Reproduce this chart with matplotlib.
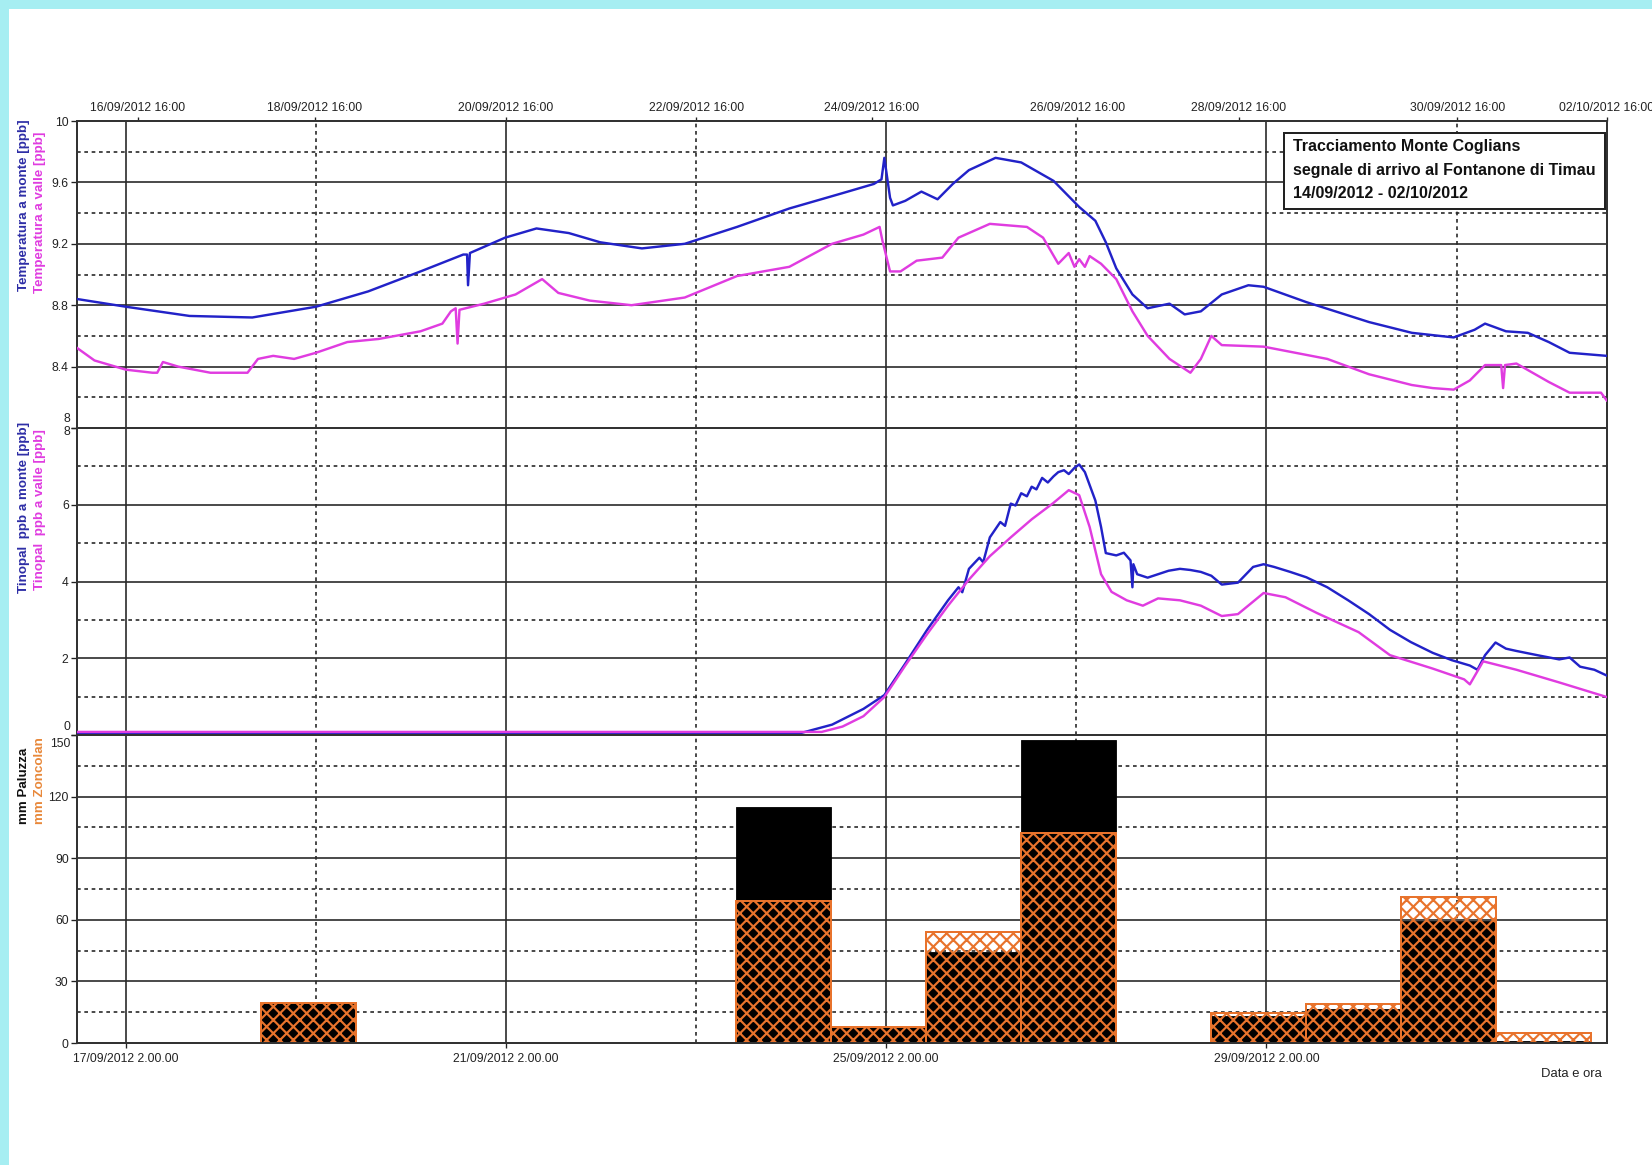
import numpy as np
import pandas as pd
import matplotlib
matplotlib.use("Agg")
import matplotlib.pyplot as plt
import matplotlib.dates as mdates
from matplotlib.patches import Rectangle
import matplotlib.transforms as mtransforms

# ---------------- data (time in days since 17/09/2012 02:00) ----------------
temp_monte_days = [-0.51, 0.0, 0.67, 1.33, 2.0, 2.55, 3.10, 3.55, 3.59, 3.60, 3.62, 3.99, 4.32, 4.66,
                   4.99, 5.43, 5.88, 6.43, 6.98, 7.54, 7.87, 7.95, 7.98, 8.04, 8.07, 8.20, 8.37, 8.54,
                   8.70, 8.87, 9.15, 9.42, 9.76, 10.03, 10.20, 10.31, 10.42, 10.59, 10.75, 10.98,
                   11.14, 11.31, 11.53, 11.81, 11.97, 12.42, 13.08, 13.53, 13.97, 14.19, 14.30,
                   14.52, 14.75, 14.97, 15.19, 15.58]
temp_monte_vals = [8.84, 8.79, 8.73, 8.72, 8.79, 8.89, 9.02, 9.13, 9.13, 8.93, 9.14, 9.24, 9.30, 9.27,
                   9.21, 9.17, 9.20, 9.31, 9.43, 9.53, 9.59, 9.62, 9.76, 9.50, 9.45, 9.48, 9.54, 9.49,
                   9.59, 9.68, 9.76, 9.73, 9.61, 9.44, 9.35, 9.21, 9.04, 8.87, 8.78, 8.81,
                   8.74, 8.76, 8.87, 8.93, 8.92, 8.82, 8.69, 8.62, 8.59, 8.64, 8.68,
                   8.63, 8.62, 8.56, 8.49, 8.47]

temp_valle_days = [-0.51, -0.33, 0.0, 0.28, 0.33, 0.39, 0.55, 0.89, 1.28, 1.39, 1.55, 1.77, 2.0, 2.33,
                   2.66, 3.10, 3.33, 3.42, 3.47, 3.49, 3.51, 3.77, 4.10, 4.38, 4.55, 4.88, 5.32, 5.88,
                   6.43, 6.98, 7.43, 7.76, 7.93, 7.96, 8.04, 8.15, 8.32, 8.59, 8.76, 9.09, 9.48, 9.65,
                   9.81, 9.92, 9.98, 10.03, 10.09, 10.14, 10.26, 10.42, 10.59, 10.75, 10.98, 11.20,
                   11.31, 11.42, 11.53, 11.97, 12.64, 13.08, 13.53, 13.75, 13.97, 14.14, 14.30, 14.47,
                   14.49, 14.51, 14.63, 14.97, 15.19, 15.52, 15.58]
temp_valle_vals = [8.52, 8.44, 8.38, 8.36, 8.36, 8.43, 8.40, 8.36, 8.36, 8.45, 8.47, 8.45, 8.49, 8.56,
                   8.58, 8.63, 8.68, 8.76, 8.78, 8.55, 8.77, 8.81, 8.87, 8.97, 8.88, 8.83, 8.80, 8.85,
                   8.99, 9.05, 9.20, 9.26, 9.31, 9.22, 9.02, 9.02, 9.09, 9.11, 9.24, 9.33, 9.31, 9.24,
                   9.07, 9.14, 9.05, 9.10, 9.05, 9.12, 9.07, 8.97, 8.76, 8.60, 8.45, 8.36,
                   8.45, 8.60, 8.54, 8.53, 8.45, 8.35, 8.28, 8.26, 8.25, 8.31, 8.41, 8.41,
                   8.26, 8.41, 8.42, 8.30, 8.23, 8.23, 8.18]

tin_monte_days = [-0.51, 7.10, 7.43, 7.76, 7.98, 8.20, 8.43, 8.65, 8.76, 8.80, 8.87, 8.98, 9.02,
                  9.09, 9.20, 9.25, 9.31, 9.36, 9.42, 9.48, 9.53, 9.58, 9.64, 9.70, 9.76, 9.81,
                  9.87, 9.92, 9.98, 10.03, 10.09, 10.20, 10.26, 10.31, 10.42, 10.50, 10.57, 10.59,
                  10.60, 10.64, 10.75, 10.86, 10.97, 11.09, 11.20, 11.31, 11.42, 11.53, 11.70,
                  11.86, 11.97, 12.08, 12.25, 12.42, 12.64, 12.86, 13.08, 13.30, 13.52, 13.75,
                  13.95, 14.14, 14.22, 14.30, 14.41, 14.52, 14.63, 14.85, 15.08, 15.19, 15.30,
                  15.45, 15.58]
tin_monte_vals = [0.05, 0.05, 0.27, 0.68, 1.04, 1.86, 2.74, 3.51, 3.85, 3.72, 4.33, 4.62, 4.50,
                  5.15, 5.55, 5.45, 6.03, 5.98, 6.30, 6.22, 6.47, 6.40, 6.70, 6.58, 6.74, 6.85,
                  6.90, 6.80, 6.96, 7.05, 6.85, 6.11, 5.42, 4.74, 4.68, 4.75, 4.55, 3.85,
                  4.45, 4.19, 4.10, 4.19, 4.28, 4.33, 4.30, 4.25, 4.15, 3.92, 3.97,
                  4.38, 4.45, 4.38, 4.25, 4.11, 3.85, 3.51, 3.15, 2.74, 2.42, 2.14,
                  1.95, 1.81, 1.70, 2.08, 2.41, 2.25, 2.19, 2.08, 1.97, 2.02, 1.78,
                  1.70, 1.55]

tin_valle_days = [-0.51, 7.32, 7.54, 7.76, 7.98, 8.20, 8.43, 8.65, 8.87, 9.09, 9.31, 9.53, 9.76, 9.92,
                  10.03, 10.14, 10.26, 10.37, 10.53, 10.70, 10.86, 11.09, 11.31, 11.53, 11.70, 11.97,
                  12.20, 12.53, 12.97, 13.30, 13.75, 14.08, 14.14, 14.28, 14.63, 15.08, 15.58]
tin_valle_vals = [0.08, 0.08, 0.22, 0.49, 0.99, 1.81, 2.63, 3.37, 4.05, 4.66, 5.15, 5.62, 6.05, 6.38,
                  6.25, 5.42, 4.19, 3.73, 3.51, 3.37, 3.56, 3.51, 3.37, 3.10, 3.15, 3.70,
                  3.59, 3.18, 2.68, 2.08, 1.73, 1.45, 1.32, 1.92, 1.70, 1.37, 0.99]

rain_start_days = [1.417, 6.417, 7.417, 8.417, 9.417, 11.417, 12.417, 13.417, 14.417]
rain_paluzza = [19.5, 115, 8, 44.5, 147.5, 13, 16.5, 59.5, 1]
rain_zoncolan = [19.5, 69, 8, 54, 102.5, 14.5, 19, 71, 5]

top_tick_days = [0.126, 1.989, 4.0, 6.0, 7.85, 10.01, 11.71, 14.01, 15.583]
top_tick_labels = ["16/09/2012 16:00", "18/09/2012 16:00", "20/09/2012 16:00", "22/09/2012 16:00",
                   "24/09/2012 16:00", "26/09/2012 16:00", "28/09/2012 16:00", "30/09/2012 16:00",
                   "02/10/2012 16:00"]
bottom_tick_days = [0, 4, 8, 12]
minor_grid_days = [2, 6, 10, 14]
x_range_days = [-0.514, 15.583]

T0 = pd.Timestamp("2012-09-17 02:00")


def xnum(days):
    d = T0 + pd.to_timedelta(np.asarray(days, dtype=float), unit="D")
    return mdates.date2num(pd.DatetimeIndex(d).to_pydatetime())


# ---------------- style ----------------
W, H, DPI = 1652, 1165, 120
BLUE = "#2222c8"
PINK = "#e03ce0"
ORANGE = "#e8732c"
GRID = "#2a2a2a"
FONT = ["Liberation Sans", "DejaVu Sans"]
plt.rcParams["font.family"] = FONT
plt.rcParams["hatch.linewidth"] = 1.3

fig = plt.figure(figsize=(W / DPI, H / DPI), dpi=DPI)
fig.patch.set_facecolor("#a6eef2")
fig.add_artist(Rectangle((9 / W, 0), 1, 1 - 9 / H, transform=fig.transFigure,
                         facecolor="white", edgecolor="none", zorder=-10))

left = 77 / W
width = (1607 - 77) / W


def rect(top_px, bot_px):
    return [left, 1 - bot_px / H, width, (bot_px - top_px) / H]


ax_t = fig.add_axes(rect(121, 428))
ax_m = fig.add_axes(rect(428, 735))
ax_b = fig.add_axes(rect(735, 1043))

xlim = xnum(x_range_days)
TICK_FS = 7.3
LW = 1.45

for ax in (ax_t, ax_m, ax_b):
    ax.set_facecolor("none")
    ax.set_xlim(xlim)
    for s in ax.spines.values():
        s.set_color("#333333")
        s.set_linewidth(1.2)
    for d in bottom_tick_days:
        ax.axvline(xnum([d])[0], color=GRID, lw=1.0, zorder=0.5)
    for d in minor_grid_days:
        ax.axvline(xnum([d])[0], color=GRID, lw=1.0, ls=(0, (2.2, 2.2)), zorder=0.5)
    ax.tick_params(axis="y", direction="out", length=3.5, width=0.8, labelsize=TICK_FS,
                   pad=1.5, colors="#222222")

# ---------- top: temperature ----------
ax_t.set_ylim(8, 10)
t_major = [8, 8.4, 8.8, 9.2, 9.6, 10]
t_minor = [8.2, 8.6, 9.0, 9.4, 9.8]
for v in t_major[1:-1]:
    ax_t.axhline(v, color=GRID, lw=1.0, zorder=0.5)
for v in t_minor:
    ax_t.axhline(v, color=GRID, lw=1.0, ls=(0, (2.2, 2.2)), zorder=0.5)
ax_t.set_yticks(t_major, ["", "8.4", "8.8", "9.2", "9.6", "10"])
ax_t.plot(xnum(temp_monte_days), temp_monte_vals, color=BLUE, lw=LW, zorder=3)
ax_t.plot(xnum(temp_valle_days), temp_valle_vals, color=PINK, lw=LW, zorder=3)
ax_t.set_xticks(xnum(top_tick_days), top_tick_labels)
ax_t.tick_params(axis="x", top=True, bottom=False, labeltop=True, labelbottom=False,
                 direction="out", length=2.5, width=0.8, labelsize=TICK_FS, pad=1.5,
                 colors="#222222")


def edge_label(ax, y, txt, dy_px):
    tr = ax.get_yaxis_transform() + mtransforms.ScaledTranslation(
        -6.5 / DPI, dy_px / DPI, fig.dpi_scale_trans)
    ax.text(0, y, txt, transform=tr, ha="right", va="center", fontsize=TICK_FS,
            color="#222222")


edge_label(ax_t, 8, "8", 9)

# ---------- middle: tinopal ----------
ax_m.set_ylim(0, 8)
for v in [2, 4, 6]:
    ax_m.axhline(v, color=GRID, lw=1.0, zorder=0.5)
for v in [1, 3, 5, 7]:
    ax_m.axhline(v, color=GRID, lw=1.0, ls=(0, (2.2, 2.2)), zorder=0.5)
ax_m.set_yticks([0, 2, 4, 6, 8], ["", "2", "4", "6", ""])
edge_label(ax_m, 8, "8", -4)
edge_label(ax_m, 0, "0", 8)
ax_m.plot(xnum(tin_monte_days), tin_monte_vals, color=BLUE, lw=LW, zorder=3)
ax_m.plot(xnum(tin_valle_days), tin_valle_vals, color=PINK, lw=LW, zorder=3)
ax_m.set_xticks([])

# ---------- bottom: rain ----------
ax_b.set_ylim(0, 150)
for v in [30, 60, 90, 120]:
    ax_b.axhline(v, color=GRID, lw=1.0, zorder=0.5)
for v in [15, 45, 75, 105, 135]:
    ax_b.axhline(v, color=GRID, lw=1.0, ls=(0, (2.2, 2.2)), zorder=0.5)
ax_b.set_yticks([0, 30, 60, 90, 120, 150], ["0", "30", "60", "90", "120", ""])
edge_label(ax_b, 150, "150", -9)
xs = xnum(rain_start_days)
ax_b.bar(xs, rain_paluzza, width=1.0, align="edge", color="black", edgecolor="black",
         linewidth=0.5, zorder=2)
ax_b.bar(xs, rain_zoncolan, width=1.0, align="edge", facecolor="none", edgecolor=ORANGE,
         hatch="xxx", linewidth=1.2, zorder=2.5)
ax_b.set_xticks(xnum(bottom_tick_days),
                [f"{d:%d/%m/%Y} {d.hour}.{d:%M}.{d:%S}" for d in
                 (T0 + pd.to_timedelta(bottom_tick_days, unit="D"))])
ax_b.tick_params(axis="x", direction="out", length=3, width=0.8, labelsize=TICK_FS, pad=3,
                 colors="#222222")

# ---------- axis titles ----------
YL_FS = 8.0


def ylab(xpx, ypx, txt, col):
    fig.text(xpx / W, 1 - ypx / H, txt, rotation=90, ha="center", va="center",
             fontsize=YL_FS, fontweight="bold", color=col)


ylab(24, 205, "Temperatura a monte [ppb]", "#2e2ea6")
ylab(40, 212, "Temperatura a valle [ppb]", PINK)
ylab(24, 507, "Tinopal  ppb a monte [ppb]", "#2e2ea6")
ylab(40, 510, "Tinopal  ppb a valle [ppb]", PINK)
ylab(24, 786, "mm Paluzza", "#111111")
ylab(40, 781, "mm Zoncolan", "#e8883a")

fig.text(1602 / W, 1 - 1074 / H, "Data e ora", ha="right", va="center", fontsize=7.8,
         color="#222222")

# ---------- title box ----------
fig.add_artist(Rectangle((1284 / W, 1 - 209 / H), (1605 - 1284) / W, (209 - 133) / H,
                         transform=fig.transFigure, facecolor="white", edgecolor="#222222",
                         linewidth=1.2, zorder=5))
for i, line in enumerate(["Tracciamento Monte Coglians",
                          "segnale di arrivo al Fontanone di Timau",
                          "14/09/2012 - 02/10/2012"]):
    fig.text(1293 / W, 1 - (147 + 23 * i) / H, line, ha="left", va="center", fontsize=9.6,
             fontweight="bold", color="#111111", zorder=6)

fig.savefig("out.png", dpi=DPI, facecolor=fig.get_facecolor())
